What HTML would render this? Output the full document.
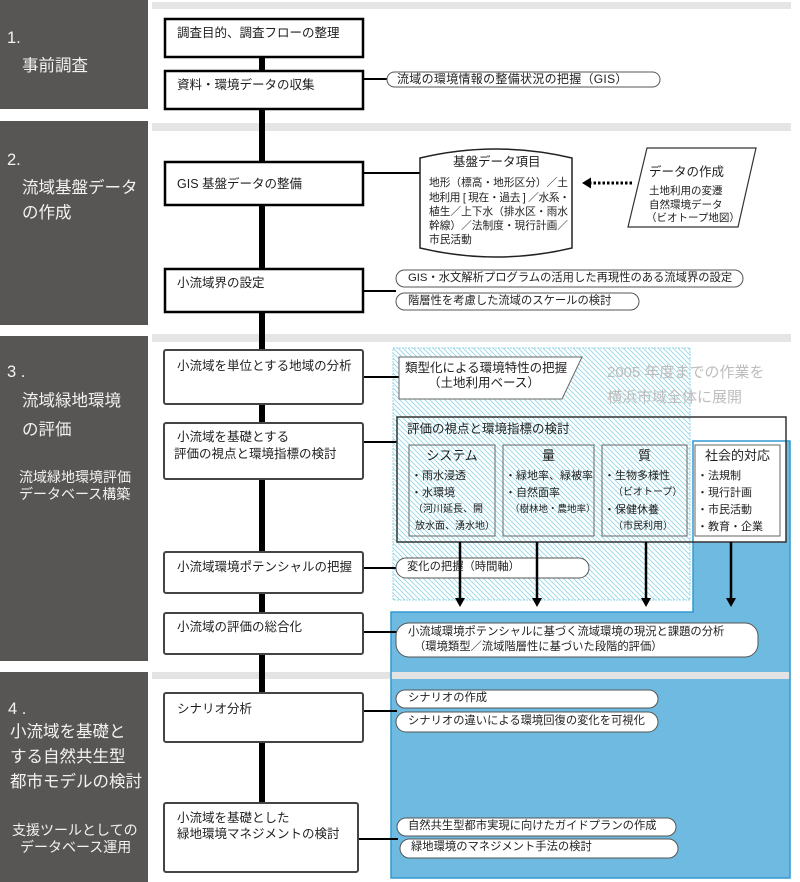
<!DOCTYPE html>
<html><head><meta charset="utf-8">
<style>
html,body{margin:0;padding:0;background:#fff;}
body{width:800px;height:882px;position:relative;overflow:hidden;font-family:"Liberation Sans","Noto Sans CJK JP",sans-serif;}
svg{position:absolute;left:0;top:0;}
.t{position:absolute;white-space:nowrap;line-height:1;color:#1e1e1e;}
.p{color:#f2f2f2;font-size:16.5px;}
.ps{color:#f2f2f2;font-size:14px;}
.b{font-size:12.5px;}
.s{font-size:11.3px;}
.i{font-size:11px;}
.sm{font-size:10px;}
.h{font-size:13px;text-align:center;}
</style></head><body>
<svg width="800" height="882" viewBox="0 0 800 882">
<defs>
<pattern id="hatch" patternUnits="userSpaceOnUse" width="5" height="5">
<path d="M-1,-1 L6,6 M-1,4 L1,6 M4,-1 L6,1" stroke="#93d5e4" stroke-width="0.85" fill="none"/>
</pattern>
</defs>
<!-- left panels -->
<rect x="0" y="0" width="148" height="109" fill="#585654"/>
<rect x="0" y="121" width="148" height="204" fill="#585654"/>
<rect x="0" y="336" width="148" height="325" fill="#585654"/>
<rect x="0" y="672" width="148" height="210" fill="#585654"/>
<!-- gray bars -->
<rect x="152" y="2" width="639" height="7" fill="#e5e5e5"/>
<rect x="152" y="123" width="639" height="8" fill="#e5e5e5"/>
<rect x="152" y="334" width="639" height="8" fill="#e5e5e5"/>
<!-- blue region fill -->
<polygon points="693,441 790,441 790,878 391,878 391,612 693,612" fill="#6fbae1"/>
<rect x="152" y="672" width="639" height="7" fill="#e3e3e3"/>
<!-- big box fill -->
<rect x="397" y="417" width="389" height="125" fill="#fff"/>
<!-- hatch -->
<rect x="393" y="348" width="297" height="252" fill="url(#hatch)" stroke="#93d5e4" stroke-width="1" stroke-dasharray="2 1"/>
<!-- blue outline -->
<polygon points="693,441 790,441 790,878 391,878 391,612 693,612" fill="none" stroke="#3298d2" stroke-width="1.5"/>
<!-- main vertical line -->
<rect x="259" y="57" width="6" height="746" fill="#000"/>
<!-- connectors -->
<g stroke="#000" stroke-width="2">
<line x1="363" y1="79" x2="388" y2="79"/>
<line x1="363" y1="173" x2="421" y2="173"/>
<line x1="363" y1="291" x2="396" y2="291"/>
<line x1="363" y1="377" x2="399" y2="377"/>
<line x1="363" y1="442" x2="397" y2="442"/>
<line x1="363" y1="568" x2="397" y2="568"/>
<line x1="363" y1="632" x2="397" y2="632"/>
<line x1="363" y1="711" x2="397" y2="711"/>
<line x1="358" y1="839" x2="398" y2="839"/>
</g>
<!-- section 1/2 boxes -->
<g fill="#fff" stroke="#000" stroke-width="2.5">
<rect x="165" y="19" width="198" height="38"/>
<rect x="165" y="71" width="198" height="38"/>
<rect x="165" y="162" width="198" height="43"/>
<rect x="165" y="269" width="198" height="43"/>
</g>
<!-- section 3/4 boxes -->
<g fill="#fff" stroke="#444" stroke-width="2">
<rect x="164" y="350" width="199" height="54" rx="2"/>
<rect x="164" y="423" width="199" height="56" rx="2"/>
<rect x="164" y="552" width="199" height="41" rx="2"/>
<rect x="164" y="613" width="199" height="41" rx="2"/>
<rect x="164" y="693" width="199" height="49" rx="2"/>
<rect x="164" y="803" width="194" height="69" rx="2"/>
</g>
<!-- big box stroke and sub boxes -->
<rect x="397" y="417" width="389" height="125" fill="none" stroke="#333" stroke-width="1.5"/>
<g fill="none" stroke="#666" stroke-width="1">
<rect x="409" y="445" width="86" height="91"/>
<rect x="503" y="445" width="91" height="91"/>
<rect x="602" y="445" width="85" height="91"/>
<rect x="695" y="445" width="85" height="91" fill="#fff"/>
</g>
<!-- pentagon -->
<polygon points="399,357 582,357 562,399 399,399" fill="#fff" stroke="#666" stroke-width="1"/>
<!-- cylinder -->
<path d="M420,158 Q496,140 572,158 L572,248 Q496,266 420,248 Z" fill="#fff" stroke="#222" stroke-width="1.5"/>
<!-- parallelogram -->
<polygon points="647,148 756,148 738,227 628,227" fill="#fff" stroke="#333" stroke-width="1.2"/>
<!-- dotted arrow -->
<line x1="632" y1="183" x2="591" y2="183" stroke="#000" stroke-width="3" stroke-dasharray="2.5 2"/>
<polygon points="582,183 591,177.5 591,188.5" fill="#000"/>
<!-- pills -->
<g fill="#fff" stroke="#555" stroke-width="1">
<rect x="387" y="72" width="273" height="15" rx="7.5"/>
<rect x="396" y="270" width="347" height="17" rx="8.5"/>
<rect x="396" y="293" width="243" height="17" rx="8.5"/>
<rect x="396" y="558" width="193" height="20" rx="10"/>
<rect x="396" y="623" width="362" height="34" rx="13"/>
<rect x="396" y="690" width="262" height="18" rx="9"/>
<rect x="396" y="712" width="262" height="20" rx="10"/>
<rect x="397" y="818" width="279" height="18" rx="9"/>
<rect x="400" y="839" width="278" height="19" rx="9.5"/>
</g>
<!-- down arrows -->
<g stroke="#000" stroke-width="2.5">
<line x1="460" y1="542" x2="460" y2="600"/>
<line x1="537" y1="542" x2="537" y2="600"/>
<line x1="646" y1="542" x2="646" y2="600"/>
<line x1="731" y1="542" x2="731" y2="600"/>
</g>
<g fill="#000">
<polygon points="455,598 465,598 460,607"/>
<polygon points="532,598 542,598 537,607"/>
<polygon points="641,598 651,598 646,607"/>
<polygon points="726,598 736,598 731,607"/>
</g>
</svg>

<!-- left panel text -->
<div class="t p" style="left:7px;top:30px;">1.</div>
<div class="t p" style="left:22px;top:58px;">事前調査</div>
<div class="t p" style="left:7px;top:152px;">2.</div>
<div class="t p" style="left:22px;top:180px;">流域基盤データ</div>
<div class="t p" style="left:22px;top:205px;">の作成</div>
<div class="t p" style="left:7px;top:364px;">3 .</div>
<div class="t p" style="left:22px;top:393px;">流域緑地環境</div>
<div class="t p" style="left:22px;top:422px;">の評価</div>
<div class="t ps" style="left:19px;top:470px;">流域緑地環境評価</div>
<div class="t ps" style="left:19px;top:487px;">データベース構築</div>
<div class="t p" style="left:8px;top:701px;">4 .</div>
<div class="t p" style="left:10px;top:724px;">小流域を基礎と</div>
<div class="t p" style="left:10px;top:749px;">する自然共生型</div>
<div class="t p" style="left:10px;top:774px;">都市モデルの検討</div>
<div class="t ps" style="left:12px;top:823px;">支援ツールとしての</div>
<div class="t ps" style="left:20px;top:840px;">データベース運用</div>

<!-- main boxes text -->
<div class="t b" style="left:177px;top:27px;">調査目的、調査フローの整理</div>
<div class="t b" style="left:177px;top:79px;">資料・環境データの収集</div>
<div class="t b" style="left:177px;top:178px;">GIS 基盤データの整備</div>
<div class="t b" style="left:177px;top:277px;">小流域界の設定</div>
<div class="t b" style="left:177px;top:360px;">小流域を単位とする地域の分析</div>
<div class="t b" style="left:177px;top:431px;">小流域を基礎とする</div>
<div class="t b" style="left:174px;top:448px;">評価の視点と環境指標の検討</div>
<div class="t b" style="left:177px;top:561px;">小流域環境ポテンシャルの把握</div>
<div class="t b" style="left:177px;top:621px;">小流域の評価の総合化</div>
<div class="t b" style="left:177px;top:703px;">シナリオ分析</div>
<div class="t b" style="left:177px;top:812px;">小流域を基礎とした</div>
<div class="t b" style="left:177px;top:828px;">緑地環境マネジメントの検討</div>

<!-- section 1/2 side items -->
<div class="t" style="left:397px;top:73px;font-size:12px;letter-spacing:0.3px;">流域の環境情報の整備状況の把握（GIS）</div>
<div class="t" style="left:453px;top:156px;font-size:12.5px;">基盤データ項目</div>
<div class="t" style="left:429px;top:178px;font-size:10.7px;">地形（標高・地形区分）／土</div>
<div class="t" style="left:429px;top:192.5px;font-size:10.7px;letter-spacing:-0.3px;">地利用 [ 現在・過去 ] ／水系・</div>
<div class="t" style="left:429px;top:207px;font-size:10.7px;">植生／上下水（排水区・雨水</div>
<div class="t" style="left:429px;top:221px;font-size:10.7px;">幹線）／法制度・現行計画／</div>
<div class="t" style="left:429px;top:235px;font-size:10.7px;">市民活動</div>
<div class="t" style="left:649px;top:166px;font-size:12.5px;">データの作成</div>
<div class="t" style="left:649px;top:186px;font-size:10.5px;">土地利用の変遷</div>
<div class="t" style="left:649px;top:200px;font-size:10.5px;">自然環境データ</div>
<div class="t" style="left:646px;top:213px;font-size:10.5px;">（ビオトープ地図）</div>
<div class="t s" style="left:408px;top:273px;">GIS・水文解析プログラムの活用した再現性のある流域界の設定</div>
<div class="t s" style="left:408px;top:296px;">階層性を考慮した流域のスケールの検討</div>

<!-- section 3 items -->
<div class="t b" style="left:405px;top:362px;">類型化による環境特性の把握</div>
<div class="t b" style="left:428px;top:377px;">（土地利用ベース）</div>
<div class="t" style="left:607px;top:365px;font-size:15px;color:#bdbdbd;">2005 年度までの作業を</div>
<div class="t" style="left:607px;top:390px;font-size:15px;color:#bdbdbd;">横浜市域全体に展開</div>
<div class="t b" style="left:407px;top:423px;">評価の視点と環境指標の検討</div>
<div class="t h" style="left:409px;width:86px;top:449px;">システム</div>
<div class="t h" style="left:503px;width:91px;top:449px;">量</div>
<div class="t h" style="left:602px;width:85px;top:449px;">質</div>
<div class="t h" style="left:695px;width:85px;top:449px;">社会的対応</div>
<div class="t i" style="left:411px;top:470.5px;">・雨水浸透</div>
<div class="t i" style="left:411px;top:487.5px;">・水環境</div>
<div class="t sm" style="left:413px;top:505px;">（河川延長、開</div>
<div class="t sm" style="left:415px;top:522px;">放水面、湧水地）</div>
<div class="t i" style="left:505px;top:470.5px;">・緑地率、緑被率</div>
<div class="t i" style="left:505px;top:487.5px;">・自然面率</div>
<div class="t" style="left:510px;top:505px;font-size:9.5px;">（樹林地・農地率）</div>
<div class="t i" style="left:604px;top:470.5px;">・生物多様性</div>
<div class="t sm" style="left:613px;top:488px;">（ビオトープ）</div>
<div class="t i" style="left:604px;top:504.5px;">・保健休養</div>
<div class="t sm" style="left:613px;top:522px;">（市民利用）</div>
<div class="t i" style="left:697px;top:470.5px;">・法規制</div>
<div class="t i" style="left:697px;top:487.5px;">・現行計画</div>
<div class="t i" style="left:697px;top:504.5px;">・市民活動</div>
<div class="t i" style="left:697px;top:521.5px;">・教育・企業</div>
<div class="t s" style="left:407px;top:562px;">変化の把握（時間軸）</div>
<div class="t s" style="left:408px;top:627px;">小流域環境ポテンシャルに基づく流域環境の現況と課題の分析</div>
<div class="t s" style="left:414px;top:642px;">（環境類型／流域階層性に基づいた段階的評価）</div>

<!-- section 4 items -->
<div class="t s" style="left:408px;top:693px;">シナリオの作成</div>
<div class="t s" style="left:408px;top:716px;">シナリオの違いによる環境回復の変化を可視化</div>
<div class="t s" style="left:408px;top:821px;">自然共生型都市実現に向けたガイドプランの作成</div>
<div class="t s" style="left:411px;top:842px;">緑地環境のマネジメント手法の検討</div>
</body></html>
